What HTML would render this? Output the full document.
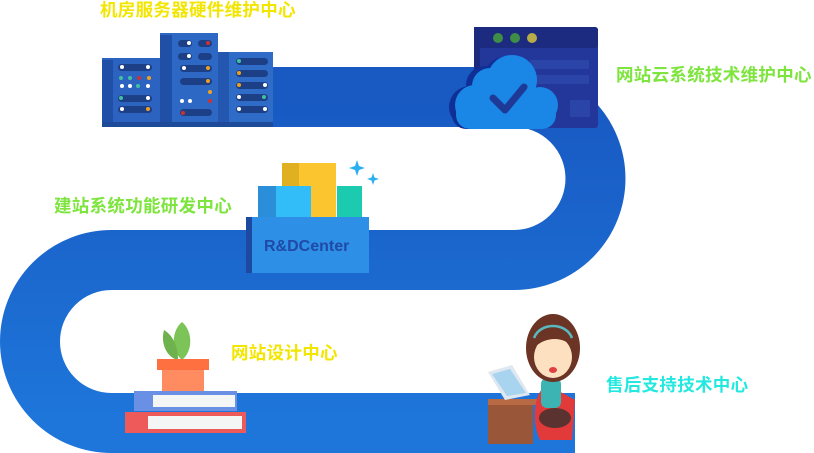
<!DOCTYPE html>
<html><head><meta charset="utf-8"><style>
html,body{margin:0;padding:0;background:#fff;}
#w{position:relative;width:814px;height:453px;overflow:hidden;}
.t{position:absolute;font-family:"Liberation Sans","Noto Sans CJK SC",sans-serif;font-weight:bold;font-size:17.5px;line-height:20px;white-space:nowrap;letter-spacing:0.3px;}
</style></head><body><div id="w">
<svg width="814" height="453" style="position:absolute;left:0;top:0">
<defs><linearGradient id="g" x1="0" y1="0" x2="0" y2="1"><stop offset="0" stop-color="#1859c2"/><stop offset="1" stop-color="#1e76da"/></linearGradient></defs>
<path d="M273,97 H514 A81.5,81.5 0 0 1 514,260 H111.5 A81.5,81.5 0 0 0 111.5,423 H575" fill="none" stroke="url(#g)" stroke-width="60"/>
<!-- servers -->
<rect x="102" y="58" width="58" height="69" fill="#2c63c0"/><rect x="102" y="60" width="11" height="67" fill="#1f4fa6"/>
<rect x="160" y="33" width="58" height="94" fill="#2d68c4"/><rect x="160" y="35" width="12" height="92" fill="#1f4fa6"/>
<rect x="218" y="52" width="55" height="75" fill="#2f6cc8"/><rect x="218" y="52" width="11" height="75" fill="#2357b0"/>
<rect x="102" y="122" width="171" height="5" fill="#1e4a9a"/>
<g fill="#1d3f85"><rect x="118" y="64" width="34" height="7" rx="3.5"/><rect x="118" y="95" width="34" height="7" rx="3.5"/><rect x="118" y="106" width="34" height="7" rx="3.5"/>
<rect x="178" y="40" width="14" height="7" rx="3.5"/><rect x="198" y="40" width="14" height="7" rx="3.5"/><rect x="178" y="53" width="14" height="7" rx="3.5"/><rect x="198" y="53" width="14" height="7" rx="3.5"/>
<rect x="180" y="65" width="32" height="7" rx="3.5"/><rect x="180" y="78" width="32" height="7" rx="3.5"/><rect x="180" y="109" width="32" height="7" rx="3.5"/>
<rect x="236" y="58" width="32" height="7" rx="3.5"/><rect x="236" y="70" width="32" height="7" rx="3.5"/><rect x="236" y="82" width="32" height="7" rx="3.5"/><rect x="236" y="94" width="32" height="7" rx="3.5"/><rect x="236" y="106" width="32" height="7" rx="3.5"/></g>
<g fill="#fff"><circle cx="122" cy="67" r="2"/><circle cx="148" cy="67" r="2"/><circle cx="122" cy="86" r="2"/><circle cx="130" cy="86" r="2"/><circle cx="148" cy="86" r="2"/><circle cx="148" cy="98" r="2"/><circle cx="122" cy="109" r="2"/><circle cx="184" cy="68" r="2"/><circle cx="189" cy="43" r="2"/><circle cx="189" cy="56" r="2"/><circle cx="182" cy="101" r="2"/><circle cx="190" cy="101" r="2"/><circle cx="265" cy="85" r="2"/><circle cx="239" cy="97" r="2"/><circle cx="239" cy="109" r="2"/><circle cx="265" cy="109" r="2"/></g>
<g fill="#f0a020"><circle cx="149" cy="78" r="2"/><circle cx="148" cy="109" r="2"/><circle cx="208" cy="68" r="2"/><circle cx="208" cy="81" r="2"/><circle cx="210" cy="92" r="2"/><circle cx="239" cy="73" r="2"/><circle cx="239" cy="85" r="2"/></g>
<g fill="#40c0a0"><circle cx="121" cy="78" r="2"/><circle cx="130" cy="78" r="2"/><circle cx="138" cy="86" r="2"/><circle cx="121" cy="98" r="2"/><circle cx="239" cy="61" r="2"/><circle cx="264" cy="97" r="2"/></g>
<g fill="#d03030"><circle cx="139" cy="78" r="2"/><circle cx="208" cy="43" r="2"/><circle cx="210" cy="101" r="2"/><circle cx="183" cy="113" r="2"/></g>
<!-- window + cloud -->
<rect x="474" y="27" width="124" height="101" rx="3" fill="#23369a"/><rect x="474" y="27" width="124" height="21" rx="3" fill="#1c2a80"/>
<rect x="474" y="27" width="6" height="101" fill="#1a2a7e"/>
<rect x="530" y="60" width="59" height="9" fill="#2a44a8"/><rect x="530" y="75" width="59" height="9" fill="#2a44a8"/><rect x="570" y="100" width="20" height="17" fill="#2a44a8"/>
<circle cx="498" cy="38" r="5" fill="#3e8e48"/><circle cx="515" cy="38" r="5" fill="#3e8e48"/><circle cx="532" cy="38" r="5" fill="#b8ac48"/>
<g fill="#0f2f96"><circle cx="470" cy="107" r="21"/><circle cx="485" cy="85" r="19"/><circle cx="508" cy="82" r="26"/><rect x="452" y="100" width="88" height="29" rx="14"/></g>
<g fill="#1a86e6"><circle cx="475" cy="105" r="20"/><circle cx="490" cy="86" r="18"/><circle cx="512" cy="80" r="25"/><circle cx="540" cy="105" r="18"/><rect x="456" y="100" width="100" height="29" rx="14"/></g>
<path d="M493,98 L505,110 L524,87" fill="none" stroke="#1e3a96" stroke-width="7" stroke-linecap="round" stroke-linejoin="round"/>
<!-- R&D -->
<rect x="282" y="163" width="54" height="55" fill="#fbc530"/><rect x="282" y="163" width="17" height="55" fill="#e0b020"/>
<rect x="258" y="186" width="53" height="32" fill="#33bdf8"/><rect x="258" y="186" width="18" height="32" fill="#2a8ed8"/>
<rect x="337" y="186" width="25" height="32" fill="#1ccab0"/>
<rect x="246" y="217" width="123" height="56" fill="#2e8fe6"/><rect x="246" y="217" width="6" height="56" fill="#1d49a0"/>
<text x="264" y="251" font-family="Liberation Sans,sans-serif" font-weight="bold" font-size="16" fill="#1f4aa8">R&amp;DCenter</text>
<path d="M357,160 l2,6 6,2 -6,2 -2,6 -2,-6 -6,-2 6,-2z" fill="#2ab0f0"/><path d="M373,173 l1.5,4.5 4.5,1.5 -4.5,1.5 -1.5,4.5 -1.5,-4.5 -4.5,-1.5 4.5,-1.5z" fill="#2ab0f0"/>
<!-- plant+books -->
<path d="M182,322 C172,330 170,350 182,360 C194,350 192,330 182,322z" fill="#7cc458"/><path d="M164,330 C160,345 168,358 178,360 C178,348 174,336 164,330z" fill="#6db24c"/>
<rect x="157" y="359" width="52" height="11" fill="#ff7040"/><rect x="162" y="370" width="42" height="22" fill="#ff8c60"/>
<rect x="134" y="391" width="103" height="20" fill="#6a90e6"/><rect x="153" y="395" width="82" height="12" fill="#f4f6f6"/>
<rect x="125" y="412" width="121" height="21" fill="#ee5a5a"/><rect x="148" y="416" width="94" height="13" fill="#f4f6f6"/>
<!-- girl -->
<rect x="488" y="403" width="45" height="41" fill="#9a5638"/><rect x="488" y="399" width="50" height="6" fill="#b86a44"/>
<path d="M488,372 L512,365 L530,395 L505,400z" fill="#dfe8f0"/><path d="M492,374 L510,369 L526,393 L507,396z" fill="#a8d4f0"/>
<path d="M548,385 C535,388 530,420 540,440 L572,440 L575,400z" fill="#e23a3a"/>
<rect x="541" y="378" width="20" height="30" rx="6" fill="#3cb4b4"/>
<ellipse cx="555" cy="418" rx="16" ry="10" fill="#5a3230"/>
<ellipse cx="553" cy="348" rx="27" ry="34" fill="#6b3424"/>
<ellipse cx="553" cy="357" rx="19" ry="21" fill="#fde0c0"/>
<path d="M534,348 C536,325 570,325 573,348 C565,336 545,336 534,348z" fill="#6b3424"/>
<path d="M534,338 C540,322 566,322 572,338" fill="none" stroke="#5ab8c0" stroke-width="2.5"/>
<ellipse cx="553" cy="370" rx="4" ry="3" fill="#e04040"/>
</svg>
<div class="t" style="left:100px;top:0px;color:#f2e600">机房服务器硬件维护中心</div>
<div class="t" style="left:616px;top:65px;color:#7ee43e">网站云系统技术维护中心</div>
<div class="t" style="left:54px;top:196px;color:#7ee43e">建站系统功能研发中心</div>
<div class="t" style="left:231px;top:343px;color:#f2e600">网站设计中心</div>
<div class="t" style="left:606px;top:375px;color:#22e8e0">售后支持技术中心</div>
</div></body></html>
